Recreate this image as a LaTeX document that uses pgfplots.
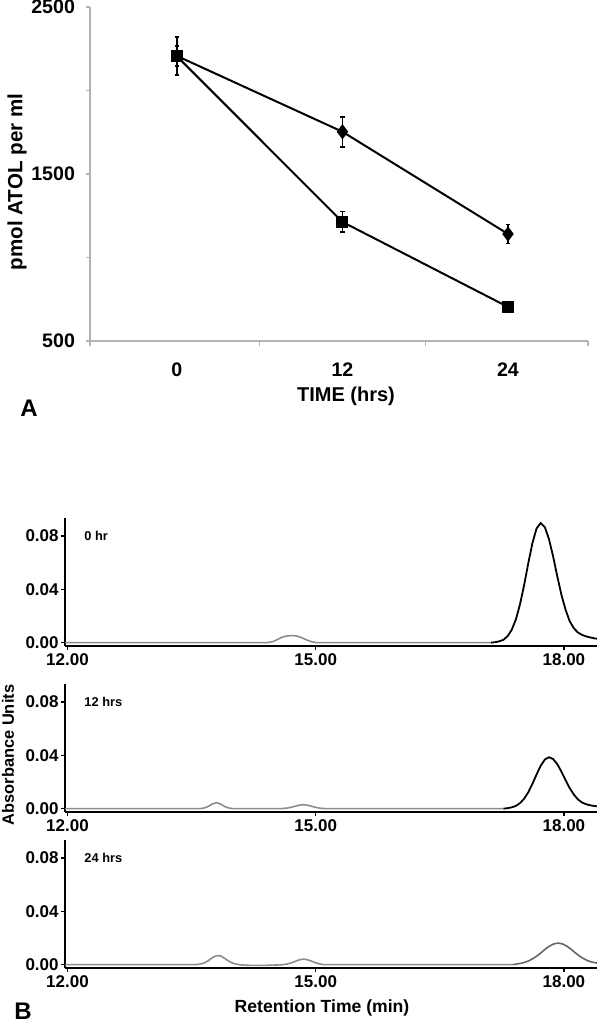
\documentclass[border=0pt]{standalone}
\usepackage{fontspec}
\setmainfont{Liberation Sans}
\usepackage{pgfplots}
\pgfplotsset{compat=1.18}
\newcommand{\fs}[1]{\fontsize{#1}{#1}\selectfont\bfseries}

\pgfplotsset{
  chrom/.style={
    scale only axis, width=266pt, height=64pt, anchor=south west,
    xmin=11.97, xmax=18.4, ymin=-0.0025, ymax=0.0935,
    axis x line=bottom, axis y line=left,
    axis line style={-, line width=1pt},
    xtick={12,15,18}, ytick={0,0.04,0.08},
    tick align=outside, major tick length=2pt,
    tick style={line width=0.7pt, black},
    scaled y ticks=false, scaled x ticks=false,
    /pgf/number format/assume math mode=true,
    xticklabel={\pgfmathprintnumber[fixed,fixed zerofill,precision=2]{\tick}},
    yticklabel={\pgfmathprintnumber[fixed,fixed zerofill,precision=2]{\tick}},
    ticklabel style={font=\fs{8.5}},
    yticklabel style={inner sep=1pt},
    xticklabel style={inner sep=1.5pt},
  },
  trace/.style={black!45, line width=0.8pt, mark=none},
  peak/.style={black, line width=0.9pt, mark=none},
}

\begin{document}
\begin{tikzpicture}
\useasboundingbox (0,0) rectangle (300pt,512pt);

% ---------------- Panel A ----------------
\begin{axis}[
  at={(45pt,341.5pt)}, anchor=south west,
  scale only axis, width=249pt, height=167pt,
  xmin=-6.3, xmax=29.8, ymin=500, ymax=2500,
  axis x line=bottom, axis y line=left,
  axis line style={-, draw=black!30, line width=0.6pt},
  tick align=outside,
  xtick={0,12,24}, xticklabels={0,12,24},
  major x tick style={draw=none},
  minor xtick={-6.3,6,18,29.8},
  minor tick length=2.5pt,
  minor x tick style={draw=black!30, line width=0.6pt},
  ytick={500,1000,1500,2000,2500}, yticklabels={500,,1500,,2500},
  major tick length=2pt,
  y tick style={draw=black!30, line width=0.6pt},
  /pgf/number format/assume math mode=true,
  ticklabel style={font=\fs{9.8}},
  xticklabel style={yshift=-5.5pt},
  yticklabel style={xshift=-2pt},
  xlabel={TIME (hrs)},
  xlabel style={font=\fs{10}, at={(axis description cs:0.514,-0.1647)}, anchor=center},
  ylabel={pmol ATOL per ml},
  ylabel style={font=\fs{10.3}, at={(axis description cs:-0.1466,0.476)}, anchor=center},
  clip=false,
]
\addplot[black, line width=1pt, mark=diamond*, mark size=3pt,
  error bars/.cd, y dir=both, y explicit,
  error bar style={line width=0.8pt},
  error mark options={line width=0.8pt, mark size=1.2pt, rotate=90}]
  coordinates {(0,2207) +- (0,113) (12,1753) +- (0,90) (24,1141) +- (0,57)};
\addplot[black, line width=1pt, mark=square*, mark size=2.5pt,
  error bars/.cd, y dir=both, y explicit,
  error bar style={line width=0.8pt},
  error mark options={line width=0.8pt, mark size=1.2pt, rotate=90}]
  coordinates {(0,2205) +- (0,60) (12,1213) +- (0,62) (24,704) +- (0,25)};
\end{axis}

% ---------------- Panel B: 0 hr ----------------
\begin{axis}[chrom, at={(32.5pt,189pt)}]
\addplot[trace] coordinates {
(11.97,0) (14.40,0) (14.45,0.0003) (14.50,0.0012) (14.55,0.0028) (14.60,0.0042)
(14.65,0.0050) (14.70,0.0053) (14.75,0.0052) (14.80,0.0045) (14.85,0.0032)
(14.90,0.0018) (14.95,0.0007) (15.00,0.0001) (15.05,0) (17.12,0)};
\addplot[peak] coordinates {
(17.12,0) (17.17,0.0004) (17.22,0.0010) (17.27,0.0022) (17.32,0.0049) (17.37,0.0097)
(17.42,0.0175) (17.47,0.0289) (17.52,0.0434) (17.57,0.0597) (17.62,0.0748)
(17.67,0.0858) (17.72,0.0897) (17.77,0.0866) (17.82,0.0776) (17.87,0.0646)
(17.92,0.0498) (17.97,0.0359) (18.02,0.0247) (18.07,0.0161) (18.12,0.0108)
(18.17,0.0076) (18.22,0.0058) (18.27,0.0047) (18.32,0.0039) (18.37,0.0032) (18.40,0.0030)};
\node[anchor=west, font=\fs{6.4}] at (axis cs:12.12,0.08) {0 hr};
\end{axis}

% ---------------- Panel B: 12 hrs ----------------
\begin{axis}[chrom, at={(32.5pt,106pt)}]
\addplot[trace] coordinates {
(11.97,0) (13.60,0) (13.65,0.0005) (13.70,0.0016) (13.75,0.0035) (13.80,0.0045)
(13.85,0.0035) (13.90,0.0016) (13.95,0.0005) (14.00,0) (14.55,0) (14.60,0.0001)
(14.65,0.0004) (14.70,0.0010) (14.75,0.0018) (14.80,0.0026) (14.85,0.0030)
(14.90,0.0026) (14.95,0.0018) (15.00,0.0010) (15.05,0.0004) (15.10,0.0001)
(15.15,0) (17.27,0)};
\addplot[peak] coordinates {
(17.27,0) (17.32,0.0004) (17.37,0.0010) (17.42,0.0021) (17.47,0.0042) (17.52,0.0075)
(17.57,0.0124) (17.62,0.0187) (17.67,0.0257) (17.72,0.0322) (17.77,0.0369)
(17.82,0.0386) (17.87,0.0372) (17.92,0.0334) (17.97,0.0278) (18.02,0.0214)
(18.07,0.0154) (18.12,0.0106) (18.17,0.0069) (18.22,0.0046) (18.27,0.0033)
(18.32,0.0025) (18.37,0.0020) (18.40,0.0018)};
\node[anchor=west, font=\fs{6.4}] at (axis cs:12.12,0.08) {12 hrs};
\end{axis}

% ---------------- Panel B: 24 hrs ----------------
\begin{axis}[chrom, at={(32.5pt,28pt)}]
\addplot[trace] coordinates {
(11.97,0) (13.55,0) (13.60,0.0004) (13.65,0.0012) (13.70,0.0029) (13.75,0.0052)
(13.80,0.0068) (13.85,0.0066) (13.90,0.0047) (13.95,0.0026) (14.00,0.0010)
(14.05,0.0003) (14.10,-0.0002) (14.20,-0.0005) (14.40,-0.0005) (14.55,-0.0002)
(14.60,0) (14.65,0.0004) (14.70,0.0012) (14.75,0.0024) (14.80,0.0036) (14.85,0.0042)
(14.90,0.0037) (14.95,0.0026) (15.00,0.0014) (15.05,0.0005) (15.10,0) (17.38,0)};
\addplot[black!60, line width=0.8pt] coordinates {
(17.38,0) (17.43,0.0005) (17.48,0.0010) (17.53,0.0018) (17.58,0.0030) (17.63,0.0047)
(17.68,0.0068) (17.73,0.0093) (17.78,0.0119) (17.83,0.0141) (17.88,0.0156)
(17.93,0.0162) (17.98,0.0156) (18.03,0.0141) (18.08,0.0119) (18.13,0.0093)
(18.18,0.0068) (18.23,0.0048) (18.28,0.0032) (18.33,0.0021) (18.38,0.0014) (18.40,0.0012)};
\node[anchor=west, font=\fs{6.4}] at (axis cs:12.12,0.08) {24 hrs};
\end{axis}

% ---------------- Panel labels and shared titles ----------------
\node[font=\fs{12}] at (14.5pt,308pt) {A};
\node[font=\fs{12}] at (11.5pt,6.5pt) {B};
\node[font=\fs{8.2}, rotate=90, inner sep=0pt] at (4pt,134.5pt) {Absorbance Units};
\node[font=\fs{8.8}, inner sep=0pt] at (161pt,8pt) {Retention Time (min)};
\end{tikzpicture}
\end{document}
